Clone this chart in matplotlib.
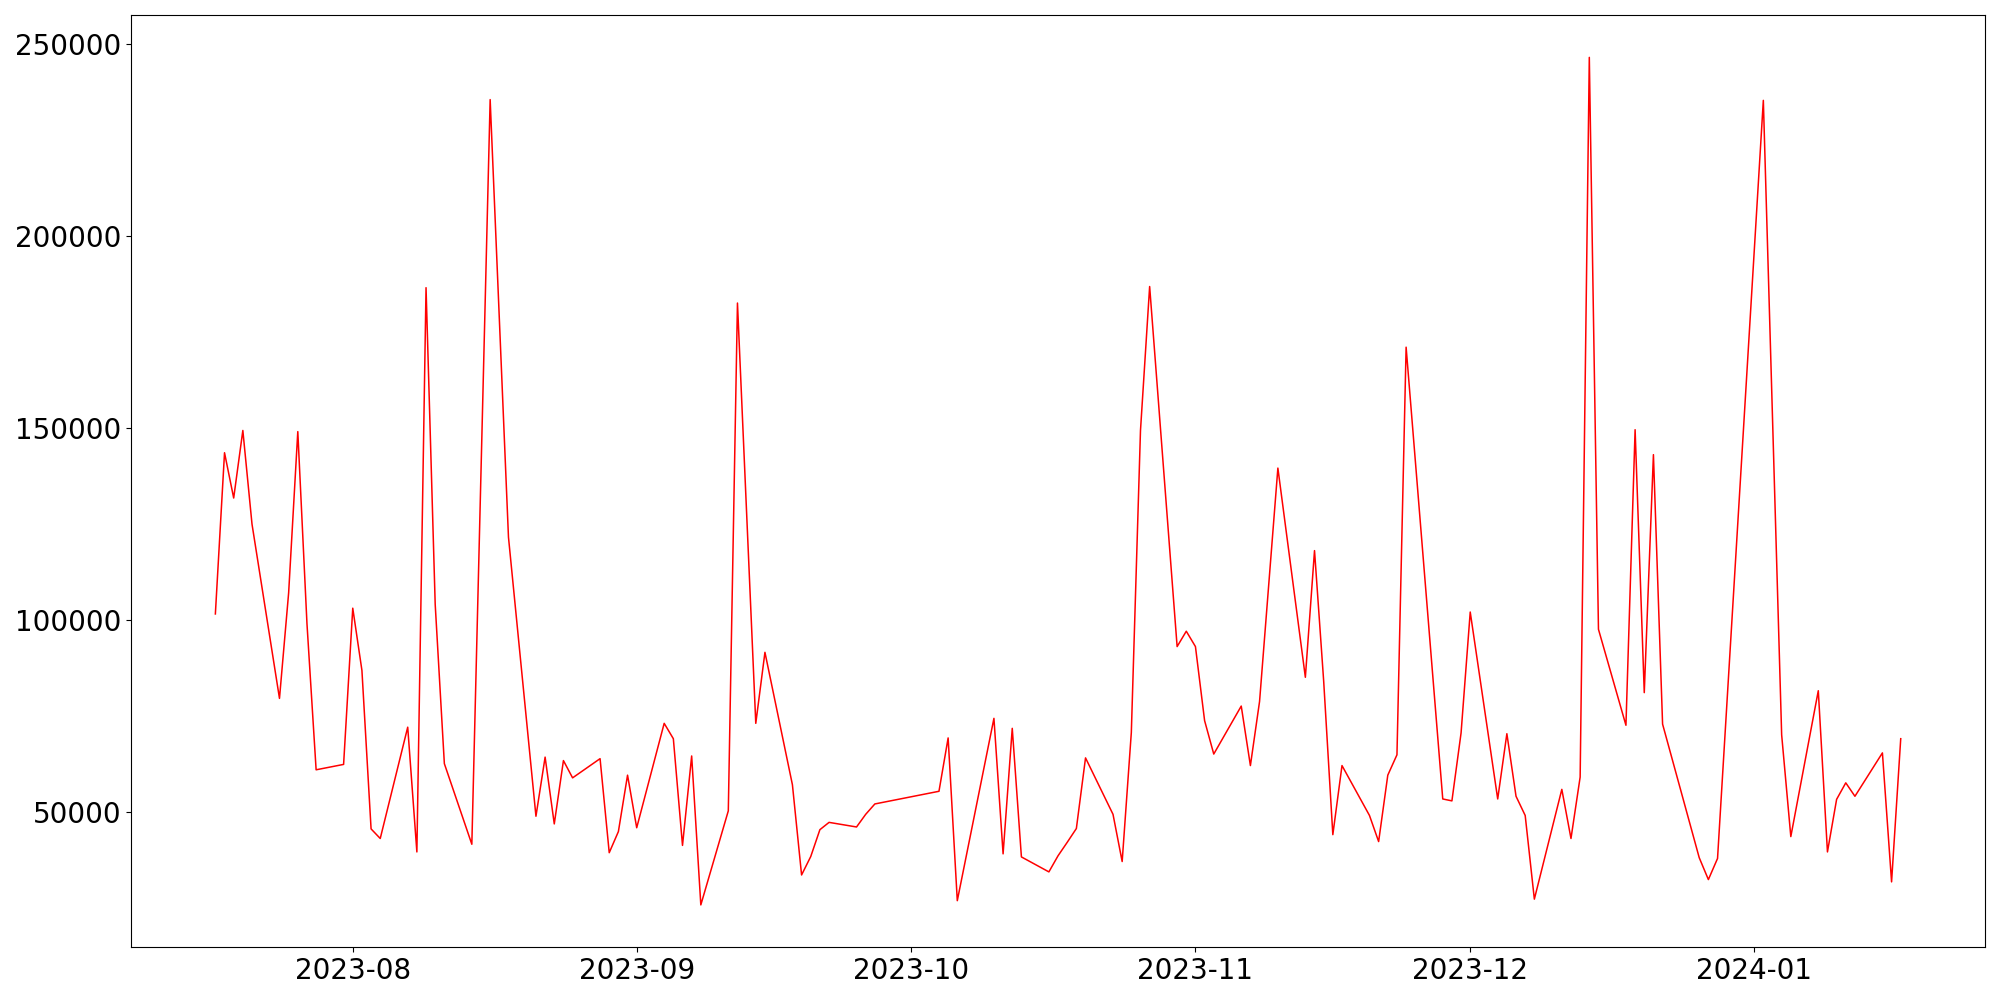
import matplotlib
matplotlib.use("Agg")
import matplotlib.pyplot as plt
import pandas as pd

dates = [
    "2023-07-17", "2023-07-18", "2023-07-19", "2023-07-20", "2023-07-21",
    "2023-07-24", "2023-07-25", "2023-07-26", "2023-07-27", "2023-07-28",
    "2023-07-31", "2023-08-01", "2023-08-02", "2023-08-03", "2023-08-04",
    "2023-08-07", "2023-08-08", "2023-08-09", "2023-08-10", "2023-08-11",
    "2023-08-14", "2023-08-16", "2023-08-18",
    "2023-08-21", "2023-08-22", "2023-08-23", "2023-08-24", "2023-08-25",
    "2023-08-28", "2023-08-29", "2023-08-30", "2023-08-31", "2023-09-01",
    "2023-09-04", "2023-09-05", "2023-09-06", "2023-09-07", "2023-09-08",
    "2023-09-11", "2023-09-12", "2023-09-14", "2023-09-15",
    "2023-09-18", "2023-09-19", "2023-09-20", "2023-09-21", "2023-09-22",
    "2023-09-25", "2023-09-26", "2023-09-27",
    "2023-10-04", "2023-10-05", "2023-10-06",
    "2023-10-10", "2023-10-11", "2023-10-12", "2023-10-13",
    "2023-10-16", "2023-10-17", "2023-10-18", "2023-10-19", "2023-10-20",
    "2023-10-23", "2023-10-24", "2023-10-25", "2023-10-26", "2023-10-27",
    "2023-10-30", "2023-10-31", "2023-11-01", "2023-11-02", "2023-11-03",
    "2023-11-06", "2023-11-07", "2023-11-08", "2023-11-10",
    "2023-11-13", "2023-11-14", "2023-11-15", "2023-11-16", "2023-11-17",
    "2023-11-20", "2023-11-21", "2023-11-22", "2023-11-23", "2023-11-24",
    "2023-11-28", "2023-11-29", "2023-11-30", "2023-12-01",
    "2023-12-04", "2023-12-05", "2023-12-06", "2023-12-07", "2023-12-08",
    "2023-12-11", "2023-12-12", "2023-12-13", "2023-12-14", "2023-12-15",
    "2023-12-18", "2023-12-19", "2023-12-20", "2023-12-21", "2023-12-22",
    "2023-12-26", "2023-12-27", "2023-12-28",
    "2024-01-02", "2024-01-04", "2024-01-05",
    "2024-01-08", "2024-01-09", "2024-01-10", "2024-01-11", "2024-01-12",
    "2024-01-15", "2024-01-16", "2024-01-17",
]

volume = [
    101500, 143500, 131700, 149300, 124900,
    79500, 107000, 149000, 99000, 60900,
    62300, 103000, 86800, 45500, 43000,
    72000, 39500, 186500, 104000, 62500,
    41500, 235500, 121500,
    48800, 64200, 46800, 63300, 58800,
    63800, 39300, 44800, 59500, 45800,
    73000, 69000, 41200, 64500, 25700,
    50200, 182500, 73000, 91500,
    57000, 33500, 38300, 45300, 47200,
    46000, 49300, 52000,
    55300, 69200, 26800,
    74300, 39000, 71700, 38200,
    34300, 38500, 42000, 45600, 64000,
    49300, 37000, 70600, 149300, 186800,
    93000, 97000, 93000, 73700, 65000,
    77500, 62000, 78700, 139500,
    85000, 118000, 84000, 44000, 62000,
    49000, 42200, 59500, 64800, 171000,
    53300, 52800, 70500, 102000,
    53300, 70300, 54000, 49000, 27200,
    55800, 43000, 59000, 246500, 97500,
    72500, 149500, 81000, 143000, 72800,
    38000, 32300, 37800,
    235300, 70000, 43500,
    81500, 39500, 53200, 57500, 54000,
    65300, 31700, 69000,
]

series = pd.Series(volume, index=pd.to_datetime(dates))

fig, ax = plt.subplots(figsize=(20, 10))
ax.plot(series.index, series.values, color="red", linewidth=1.1)
ax.tick_params(axis="both", labelsize=20)
plt.tight_layout()
plt.savefig("out.png", dpi=100)
